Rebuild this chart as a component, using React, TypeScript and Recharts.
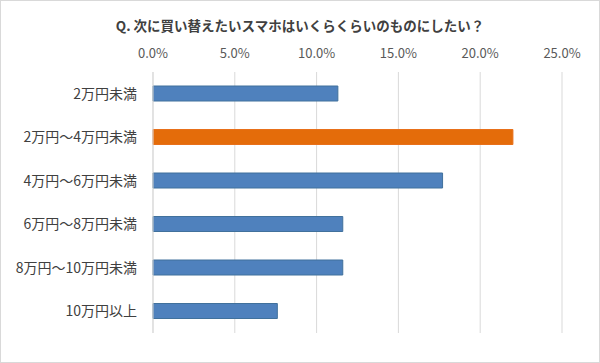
import React from 'react';
import { BarChart, Bar, XAxis, YAxis, CartesianGrid, Cell } from 'recharts';

const categories = ['2万円未満', '2万円～4万円未満', '4万円～6万円未満', '6万円～8万円未満', '8万円～10万円未満', '10万円以上'];
const shares = [0.113, 0.22, 0.177, 0.116, 0.116, 0.076];
const highlight = [false, true, false, false, false, false];
const xTicks = [0, 0.05, 0.1, 0.15, 0.2, 0.25];
const title = 'Q. 次に買い替えたいスマホはいくらくらいのものにしたい？';

const data = categories.map((name, i) => ({ name, value: shares[i], hot: highlight[i] }));

const font = '"Noto Sans CJK JP", "Noto Sans", sans-serif';

export default function App() {
  return (
    <div style={{ position: 'absolute', left: 0, top: 0, width: 600, height: 363, background: '#fff', fontFamily: font }}>
      {/* outer frame like the Excel chart area */}
      <div style={{ position: 'absolute', left: 0, top: 0, width: 598, height: 361, border: '1px solid #D9D9D9' }} />
      <div style={{ position: 'absolute', left: 0, top: 15, width: 600, textAlign: 'center', fontSize: 13.5, lineHeight: '20px', fontWeight: 'bold', color: '#404040' }}>
        {title}
      </div>
      <BarChart
        width={600}
        height={363}
        layout="vertical"
        data={data}
        margin={{ top: 42, right: 38, left: 0, bottom: 30 }}
        barCategoryGap={0}
        style={{ position: 'absolute', left: 0, top: 0 }}
      >
        <CartesianGrid horizontal={false} vertical={true} stroke="#D9D9D9" />
        <XAxis
          type="number"
          orientation="top"
          domain={[0, 0.25]}
          ticks={xTicks}
          height={30}
          axisLine={false}
          tickLine={false}
          tickMargin={8}
          tickFormatter={(v: number) => (v * 100).toFixed(1) + '%'}
          tick={{ fill: '#595959', fontSize: 13, fontFamily: font }}
          interval={0}
        />
        <YAxis
          type="category"
          dataKey="name"
          width={153}
          axisLine={{ stroke: '#D9D9D9' }}
          tickLine={false}
          tickMargin={10}
          tick={{ fill: '#404040', fontSize: 14, fontFamily: font }}
          interval={0}
        />
        <Bar dataKey="value" barSize={15} isAnimationActive={false}>
          {data.map((d, i) => (
            <Cell key={i} fill={d.hot ? '#E46C0A' : '#4F81BD'} stroke={d.hot ? '#E8701A' : '#41719C'} strokeWidth={1} />
          ))}
        </Bar>
      </BarChart>
    </div>
  );
}
